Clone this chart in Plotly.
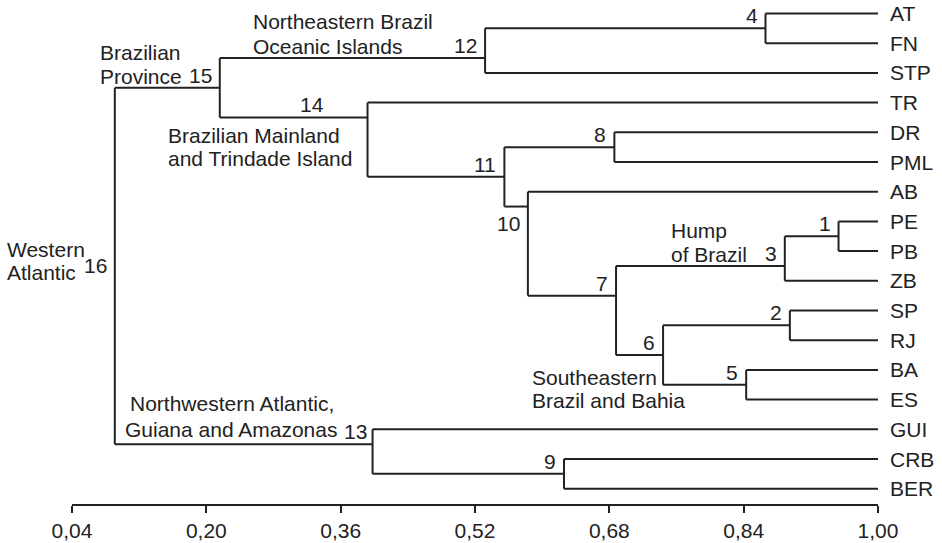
import plotly.graph_objects as go

# ---------------- data ----------------
leaves = ["AT", "FN", "STP", "TR", "DR", "PML", "AB", "PE", "PB", "ZB",
          "SP", "RJ", "BA", "ES", "GUI", "CRB", "BER"]

node_ids = [1, 2, 3, 4, 5, 6, 7, 8, 9, 10, 11, 12, 13, 14, 15, 16]
node_left = ["PE", "SP", 1, "AT", "BA", 2, 3, "DR", "CRB", "AB", 8, 4, "GUI", "TR", 12, 15]
node_right = ["PB", "RJ", "ZB", "FN", "ES", 5, 6, "PML", "BER", 7, 10, "STP", 9, 11, 14, 13]
node_similarity = [0.953, 0.895, 0.889, 0.866, 0.843, 0.744, 0.688, 0.686, 0.626,
                   0.583, 0.555, 0.532, 0.398, 0.392, 0.216, 0.091]

tick_values = [0.04, 0.20, 0.36, 0.52, 0.68, 0.84, 1.00]
tick_labels = ["0,04", "0,20", "0,36", "0,52", "0,68", "0,84", "1,00"]

# ---------------- tree geometry ----------------
leaf_index = {name: i for i, name in enumerate(leaves)}
sim = dict(zip(node_ids, node_similarity))
left = dict(zip(node_ids, node_left))
right = dict(zip(node_ids, node_right))


def leaf_range(c):
    if isinstance(c, str):
        return leaf_index[c], leaf_index[c]
    a0, _ = leaf_range(left[c])
    _, b1 = leaf_range(right[c])
    return a0, b1


def ypos(c):
    if isinstance(c, str):
        return leaf_index[c]
    _, a1 = leaf_range(left[c])
    b0, _ = leaf_range(right[c])
    return (a1 + b0) / 2


def xpos(c):
    return 1.0 if isinstance(c, str) else sim[c]


xs, ys = [], []
for n in node_ids:
    xn = sim[n]
    yl, yr = ypos(left[n]), ypos(right[n])
    xs += [xn, xn, None]
    ys += [yl, yr, None]
    for c in (left[n], right[n]):
        xs += [xn, xpos(c), None]
        ys += [ypos(c), ypos(c), None]

INK = "#222222"
FONT = "Liberation Sans, Arial, sans-serif"
FS = 21

fig = go.Figure()
fig.add_trace(go.Scatter(x=xs, y=ys, mode="lines",
                         line=dict(color=INK, width=2),
                         hoverinfo="skip", showlegend=False, cliponaxis=False))

annotations = []
for name in leaves:
    annotations.append(dict(x=1.0, y=leaf_index[name], xref="x", yref="y",
                            text=name, showarrow=False, xanchor="left",
                            yanchor="middle", xshift=10,
                            font=dict(size=FS, color=INK, family=FONT)))

for n in node_ids:
    xn = sim[n]
    yn = ypos(n)
    xanchor, xshift, yshift = "right", -6, 12.5
    if n == 16:
        yn = (ypos(left[n]) + ypos(right[n])) / 2
        yshift = 0
    if n == 10:
        yshift = -17
    if n == 14:
        xanchor, xshift = "center", -56
    if n == 13:
        xshift = -4
    annotations.append(dict(x=xn, y=yn, xref="x", yref="y", text=str(n),
                            showarrow=False, xanchor=xanchor, yanchor="middle",
                            xshift=xshift, yshift=yshift,
                            font=dict(size=FS, color=INK, family=FONT)))

PL, PW, PH = 72, 806, 504
group_lines = [
    ("Northeastern Brazil", 253, 22),
    ("Oceanic Islands", 253, 46),
    ("Brazilian", 100, 53),
    ("Province", 100, 76),
    ("Brazilian Mainland", 168, 135.5),
    ("and Trindade Island", 168, 158.5),
    ("Western", 7, 249),
    ("Atlantic", 7, 272),
    ("Hump", 671, 231),
    ("of Brazil", 671, 254.5),
    ("Southeastern", 532, 377),
    ("Brazil and Bahia", 532, 400.5),
    ("Northwestern Atlantic,", 130, 403.5),
    ("Guiana and Amazonas", 125, 429),
]
for txt, px, py in group_lines:
    annotations.append(dict(x=(px - PL - 2) / PW, y=1 - py / PH, xref="paper", yref="paper",
                            text=txt, showarrow=False, xanchor="left", yanchor="middle",
                            font=dict(size=FS, color=INK, family=FONT)))

row_top, row_step = 13.5, 29.7
fig.update_layout(
    width=942, height=543,
    margin=dict(l=PL, r=942 - PL - PW, t=0, b=543 - PH),
    plot_bgcolor="white", paper_bgcolor="white",
    annotations=annotations,
    xaxis=dict(range=[0.04, 1.00], tickvals=tick_values, ticktext=tick_labels,
               showline=True, linecolor=INK, linewidth=2,
               ticks="outside", ticklen=7, tickwidth=2, tickcolor=INK,
               showgrid=False, zeroline=False,
               tickfont=dict(size=FS, color=INK, family=FONT)),
    yaxis=dict(range=[(PH - row_top) / row_step, -row_top / row_step],
               visible=False, showgrid=False, zeroline=False),
)

fig.write_html("out.html", config={"displayModeBar": False},
               post_script="document.body.style.margin='0';document.body.style.overflow='hidden';")
